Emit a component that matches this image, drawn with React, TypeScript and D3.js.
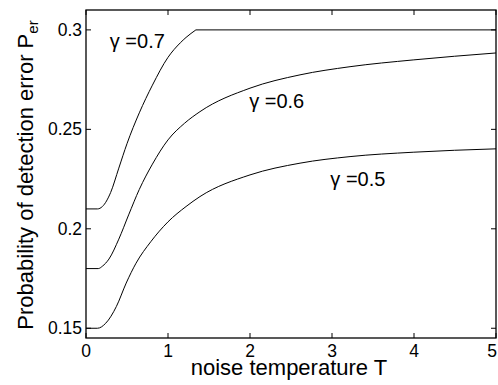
import * as d3 from "d3";

// ── Data ──────────────────────────────────────────────────────
const T_07 = [0, 0.14, 0.2, 0.3, 0.4, 0.5, 0.65, 0.81, 1.0, 1.15, 1.22, 1.34, 5];
const P_07 = [0.21, 0.21, 0.2112, 0.2182, 0.2305, 0.2428, 0.2583, 0.2722, 0.2862, 0.2935, 0.2962, 0.3, 0.3];

const T_06 = [0, 0.15, 0.2, 0.28, 0.4, 0.52, 0.65, 0.81, 1.0, 1.2, 1.39, 2.0, 2.61, 3.22, 3.99, 5];
const P_06 = [0.18, 0.18, 0.1812, 0.1848, 0.1948, 0.207, 0.2198, 0.2325, 0.2447, 0.253, 0.2589, 0.2707, 0.2774, 0.2815, 0.2849, 0.2884];

const T_05 = [0, 0.14, 0.24, 0.37, 0.49, 0.61, 0.79, 1.0, 1.22, 1.39, 2.0, 2.61, 3.22, 3.99, 5];
const P_05 = [0.15, 0.15, 0.1525, 0.1609, 0.1727, 0.1827, 0.1935, 0.2035, 0.2112, 0.2162, 0.2271, 0.233, 0.2363, 0.2385, 0.2402];

const LABELS = ["\u03b3 =0.7", "\u03b3 =0.6", "\u03b3 =0.5"];
const LABEL_T = [0.29, 1.99, 2.98];
const LABEL_P = [0.2908, 0.2606, 0.2216];

const X_TICKS = [0, 1, 2, 3, 4, 5];
const Y_TICKS = [0.15, 0.2, 0.25, 0.3];

// ── Geometry ──────────────────────────────────────────────────
const W = 498;
const H = 385;
const PAD = { top: 10, right: 2, bottom: 47, left: 86 };
const FONT = "Liberation Sans, Arial, Helvetica, sans-serif";

const SERIES = [
  { t: T_07, p: P_07 },
  { t: T_06, p: P_06 },
  { t: T_05, p: P_05 },
];

export default function App() {
  const x = d3.scaleLinear().domain([0, 5]).range([PAD.left, W - PAD.right]);
  const y = d3.scaleLinear().domain([0.1451, 0.31]).range([H - PAD.bottom, PAD.top]);

  const smooth = d3
    .line<[number, number]>()
    .x((d) => x(d[0]))
    .y((d) => y(d[1]))
    .curve(d3.curveMonotoneX);
  const straight = d3
    .line<[number, number]>()
    .x((d) => x(d[0]))
    .y((d) => y(d[1]));

  // split a clipped plateau off so its corner stays sharp
  const paths = SERIES.map((s) => {
    const pts = s.t.map((t, i) => [t, s.p[i]] as [number, number]);
    const last = pts[pts.length - 1][1];
    const k = pts.findIndex((d) => d[1] === last);
    if (k > 0 && k < pts.length - 1) {
      return (smooth(pts.slice(0, k + 1)) || "") + (straight(pts.slice(k)) || "");
    }
    return smooth(pts) || "";
  });

  const x0 = PAD.left;
  const x1 = W - PAD.right;
  const y0 = H - PAD.bottom;
  const y1 = PAD.top;
  const tick = 5;

  return (
    <svg
      width={W}
      height={H}
      style={{ position: "absolute", left: 0, top: 0, background: "#fff" }}
      fontFamily={FONT}
    >
      {paths.map((d, i) => (
        <path key={`c-${i}`} d={d} fill="none" stroke="#000" strokeWidth={1} />
      ))}

      {LABELS.map((l, i) => (
        <text key={`l-${i}`} x={x(LABEL_T[i])} y={y(LABEL_P[i])} fontSize={20} fill="#000">
          {l}
        </text>
      ))}

      {/* Box */}
      <rect x={x0} y={y1} width={x1 - x0} height={y0 - y1} fill="none" stroke="#000" strokeWidth={1.3} />

      {/* Ticks */}
      {X_TICKS.map((t) => (
        <g key={`xt-${t}`}>
          <line x1={x(t)} x2={x(t)} y1={y0} y2={y0 - tick} stroke="#000" />
          <line x1={x(t)} x2={x(t)} y1={y1} y2={y1 + tick} stroke="#000" />
          <text x={Math.min(x(t), W - 6)} y={357} textAnchor="middle" fontSize={17.5} fill="#000">
            {t}
          </text>
        </g>
      ))}
      {Y_TICKS.map((t) => (
        <g key={`yt-${t}`}>
          <line x1={x0} x2={x0 + tick} y1={y(t)} y2={y(t)} stroke="#000" />
          <line x1={x1} x2={x1 - tick} y1={y(t)} y2={y(t)} stroke="#000" />
          <text x={x0 - 4} y={y(t) + 6} textAnchor="end" fontSize={17.5} fill="#000">
            {t}
          </text>
        </g>
      ))}

      {/* Axis labels */}
      <text x={(x0 + x1) / 2 - 2} y={375} textAnchor="middle" fontSize={22} fill="#000">
        noise temperature T
      </text>
      <text
        x={0}
        y={0}
        textAnchor="middle"
        fontSize={22}
        fill="#000"
        transform="translate(33, 175) rotate(-90)"
      >
        Probability of detection error P
        <tspan fontSize={15} dy={5}>er</tspan>
      </text>
    </svg>
  );
}
